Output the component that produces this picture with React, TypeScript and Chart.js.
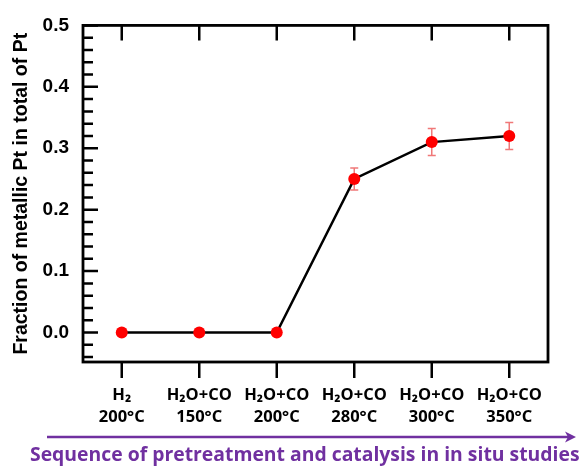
import React, { useEffect, useRef } from 'react';
import { Chart, registerables } from 'chart.js';

Chart.register(...registerables);

const categoryLabels: string[][] = [
  ['H₂', '200°C'],
  ['H₂O+CO', '150°C'],
  ['H₂O+CO', '200°C'],
  ['H₂O+CO', '280°C'],
  ['H₂O+CO', '300°C'],
  ['H₂O+CO', '350°C'],
];
const fractionValues = [0, 0, 0, 0.25, 0.31, 0.32];
const errorValues = [0, 0, 0, 0.018, 0.022, 0.022];
const yTickValues = [0, 0.1, 0.2, 0.3, 0.4, 0.5];
const yMin = -0.048;
const yMax = 0.5;
const yMinorStep = 0.02;
const yTitle = 'Fraction of metallic Pt in total of Pt';
const caption = 'Sequence of pretreatment and catalysis in in situ studies';

const PURPLE = '#7030A0';

const framePlugin = {
  id: 'frameTicksErrors',
  beforeDatasetsDraw(chart: any) {
    const { ctx, chartArea, scales } = chart;
    const { left, right, top, bottom } = chartArea;
    const x = scales.x;
    const y = scales.y;
    ctx.save();
    ctx.strokeStyle = '#000';
    ctx.lineWidth = 2.8;
    ctx.lineCap = 'butt';
    ctx.strokeRect(left, top, right - left, bottom - top);
    ctx.lineWidth = 2.5;
    ctx.beginPath();
    categoryLabels.forEach((_, i) => {
      const px = x.getPixelForValue(i);
      ctx.moveTo(px, top);
      ctx.lineTo(px, top + 15);
      ctx.moveTo(px, bottom);
      ctx.lineTo(px, bottom + 16);
    });
    yTickValues.forEach((v) => {
      const py = y.getPixelForValue(v);
      ctx.moveTo(left, py);
      ctx.lineTo(left + 15, py);
    });
    for (let k = Math.ceil(yMin / yMinorStep); k * yMinorStep <= yMax + 1e-9; k++) {
      const v = k * yMinorStep;
      if (yTickValues.some((t) => Math.abs(t - v) < 1e-9)) continue;
      const py = y.getPixelForValue(v);
      ctx.moveTo(left, py);
      ctx.lineTo(left + 10, py);
    }
    ctx.stroke();

    // error bars
    ctx.strokeStyle = '#F07878';
    ctx.lineWidth = 1.5;
    ctx.beginPath();
    fractionValues.forEach((v, i) => {
      const e = errorValues[i];
      if (!e) return;
      const px = x.getPixelForValue(i);
      const y1 = y.getPixelForValue(v + e);
      const y2 = y.getPixelForValue(v - e);
      ctx.moveTo(px, y1);
      ctx.lineTo(px, y2);
      ctx.moveTo(px - 4, y1);
      ctx.lineTo(px + 4, y1);
      ctx.moveTo(px - 4, y2);
      ctx.lineTo(px + 4, y2);
    });
    ctx.stroke();
    ctx.restore();
  },
  afterDraw(chart: any) {
    const { ctx } = chart;
    ctx.save();
    // arrow
    const ay = 437;
    const ax1 = 47;
    const ax2 = 576;
    ctx.strokeStyle = PURPLE;
    ctx.fillStyle = PURPLE;
    ctx.lineWidth = 2.5;
    ctx.beginPath();
    ctx.moveTo(ax1, ay);
    ctx.lineTo(ax2 - 6, ay);
    ctx.stroke();
    ctx.beginPath();
    ctx.moveTo(ax2, ay);
    ctx.lineTo(ax2 - 11, ay - 5.5);
    ctx.lineTo(ax2 - 8, ay);
    ctx.lineTo(ax2 - 11, ay + 5.5);
    ctx.closePath();
    ctx.fill();
    // caption
    let size = 17;
    ctx.font = `bold ${size}px "Open Sans", sans-serif`;
    const w = ctx.measureText(caption).width;
    size = (size * 550) / w;
    ctx.font = `bold ${size.toFixed(2)}px "Open Sans", sans-serif`;
    ctx.textAlign = 'left';
    ctx.textBaseline = 'middle';
    ctx.fillText(caption, 30, 455);
    ctx.restore();
  },
};

export default function App() {
  const canvasRef = useRef<HTMLCanvasElement | null>(null);

  useEffect(() => {
    document.body.style.margin = '0';
    const canvas = canvasRef.current;
    if (!canvas) return;
    const chart = new Chart(canvas, {
      type: 'line',
      data: {
        labels: categoryLabels,
        datasets: [
          {
            data: fractionValues,
            borderColor: '#000',
            borderWidth: 2.5,
            pointRadius: 6,
            pointBackgroundColor: '#FF0000',
            pointBorderColor: '#FF0000',
            pointBorderWidth: 0,
            tension: 0,
          },
        ],
      },
      options: {
        animation: false,
        responsive: false,
        devicePixelRatio: 1,
        layout: { padding: { top: 22, right: 35, left: 0, bottom: 0 } },
        plugins: {
          legend: { display: false },
          tooltip: { enabled: false },
          title: { display: false },
        },
        scales: {
          x: {
            type: 'category',
            offset: true,
            grid: { display: false, drawTicks: false },
            border: { display: false },
            ticks: {
              color: '#000',
              padding: 23,
              maxRotation: 0,
              autoSkip: false,
              font: { family: '"Open Sans", sans-serif', weight: 'bold', size: 16.5, lineHeight: 1.3 },
            },
            afterFit(scale: any) {
              scale.height = 104;
            },
          },
          y: {
            type: 'linear',
            min: yMin,
            max: yMax,
            grid: { display: false, drawTicks: false },
            border: { display: false },
            afterBuildTicks(scale: any) {
              scale.ticks = yTickValues.map((v) => ({ value: v }));
            },
            ticks: {
              color: '#000',
              padding: 14,
              font: { family: '"Liberation Sans", Arial, sans-serif', weight: 'bold', size: 19 },
              callback: (v: any) => Number(v).toFixed(1),
            },
            title: {
              display: true,
              text: yTitle,
              color: '#000',
              padding: { top: 10, bottom: 0 },
              font: { family: '"Liberation Sans", Arial, sans-serif', weight: 'bold', size: 19.5 },
            },
            afterFit(scale: any) {
              scale.width = 83;
            },
          },
        },
      },
      plugins: [framePlugin],
    });
    return () => chart.destroy();
  }, []);

  return (
    <div style={{ width: 583, height: 466, background: '#fff' }}>
      <canvas ref={canvasRef} width={583} height={466} style={{ display: 'block' }} />
    </div>
  );
}
